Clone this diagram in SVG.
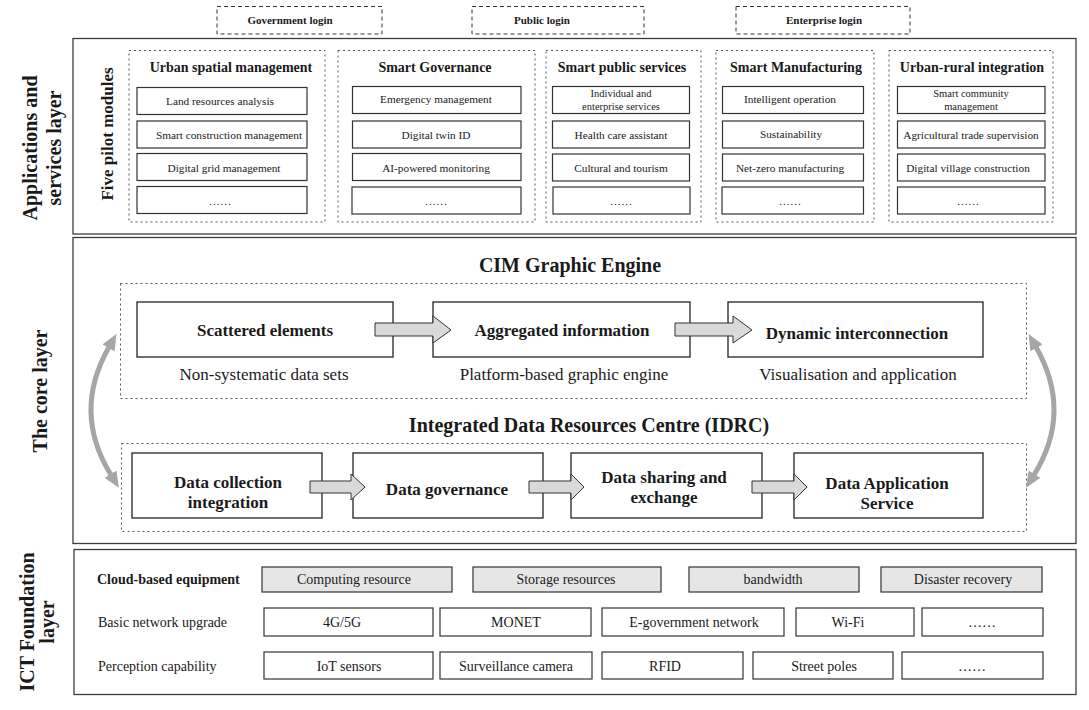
<svg xmlns="http://www.w3.org/2000/svg" width="1089" height="710" viewBox="0 0 1089 710">
<defs>
<style>
text{font-family:"Liberation Serif","Times New Roman",serif;fill:#1a1a1a}
.b{font-weight:bold}
.m{text-anchor:middle}
.layer{fill:none;stroke:#3c3c3c;stroke-width:1.3}
.dot{fill:none;stroke:#555;stroke-width:1;stroke-dasharray:2 3}
.dash{fill:none;stroke:#333;stroke-width:1;stroke-dasharray:4 3}
.item{fill:#fff;stroke:#333;stroke-width:1.2}
.gbox{fill:#e6e6e6;stroke:#333;stroke-width:1.2}
.box{fill:#fff;stroke:#222;stroke-width:1.3}
.blk{fill:#d9d9d9;stroke:#333;stroke-width:1}
.curve{fill:none;stroke:#a6a6a6;stroke-width:5;marker-start:url(#ga);marker-end:url(#ga)}
.it{font-size:11.3px;text-anchor:middle}
.it2{font-size:10.5px;text-anchor:middle}
.mt{font-size:14px;font-weight:bold;text-anchor:middle}
.lg{font-size:11px;font-weight:bold;text-anchor:middle}
.vl{font-size:20px;font-weight:bold;text-anchor:middle}
.bt{font-size:17px;font-weight:bold;text-anchor:middle}
.st{font-size:17px;text-anchor:middle}
.ht{font-size:20px;font-weight:bold;text-anchor:middle}
.rt{font-size:14px;text-anchor:middle}
.rl{font-size:14px}
</style>
<marker id="ga" markerUnits="userSpaceOnUse" markerWidth="18" markerHeight="16" viewBox="0 -8 18 16" refX="1" refY="0" orient="auto-start-reverse">
<path d="M0,-7 L16,0 L0,7 z" fill="#a6a6a6"/>
</marker>
</defs>
<rect width="1089" height="710" fill="#fff"/>

<g id="logins">
<g id="login-gov"><rect class="dash" x="217" y="6.5" width="165" height="27.5"/><text class="lg" x="290" y="23.5">Government login</text></g>
<g id="login-public"><rect class="dash" x="472" y="6.5" width="172" height="27.5"/><text class="lg" x="542" y="23.5">Public login</text></g>
<g id="login-ent"><rect class="dash" x="736" y="6.5" width="174" height="27.5"/><text class="lg" x="824" y="23.5">Enterprise login</text></g>
</g>

<g id="layer-apps">
<rect class="layer" x="73" y="38.5" width="1003" height="195.5"/>
<text class="vl" transform="translate(37,148) rotate(-90)">Applications and</text>
<text class="vl" transform="translate(61,148) rotate(-90)">services layer</text>
<text class="b m" font-size="17" transform="translate(113,134) rotate(-90)">Five pilot modules</text>
</g>

<g id="mod-urban">
<rect class="dot" x="129" y="50.5" width="196" height="171.5"/>
<text class="mt" x="231" y="72">Urban spatial management</text>
<rect class="item" x="137" y="87.5" width="170" height="27"/><text class="it" x="220" y="105">Land resources analysis</text>
<rect class="item" x="137" y="121" width="170" height="27"/><text class="it" x="229" y="138.5">Smart construction management</text>
<rect class="item" x="137" y="153.5" width="170" height="27"/><text class="it" x="224" y="171.5">Digital grid management</text>
<rect class="item" x="137" y="186.5" width="170" height="27"/><text class="it" x="220" y="205">……</text>
</g>

<g id="mod-gov">
<rect class="dot" x="338" y="50.5" width="197" height="171.5"/>
<text class="mt" x="435" y="72">Smart Governance</text>
<rect class="item" x="352.5" y="86.5" width="168.5" height="27"/><text class="it" x="436" y="103">Emergency management</text>
<rect class="item" x="352.5" y="121" width="168.5" height="27"/><text class="it" x="436" y="138.5">Digital twin ID</text>
<rect class="item" x="352.5" y="153.5" width="168.5" height="27"/><text class="it" x="436" y="171.5">AI-powered monitoring</text>
<rect class="item" x="352" y="187" width="169" height="27"/><text class="it" x="436" y="205">……</text>
</g>

<g id="mod-public">
<rect class="dot" x="546" y="50.5" width="155" height="171.5"/>
<text class="mt" x="622" y="72">Smart public services</text>
<rect class="item" x="552.5" y="86.5" width="137" height="27"/><text class="it2" x="621" y="97">Individual and</text><text class="it2" x="621" y="109.5">enterprise services</text>
<rect class="item" x="552.5" y="121" width="137" height="27"/><text class="it" x="621" y="138.5">Health care assistant</text>
<rect class="item" x="552.5" y="154" width="137" height="27"/><text class="it" x="621" y="171.5">Cultural and tourism</text>
<rect class="item" x="553" y="187" width="137" height="27"/><text class="it" x="621" y="205">……</text>
</g>

<g id="mod-manuf">
<rect class="dot" x="716" y="50.5" width="158" height="171.5"/>
<text class="mt" x="796" y="72">Smart Manufacturing</text>
<rect class="item" x="722.5" y="86.5" width="141" height="27"/><text class="it" x="790" y="103">Intelligent operation</text>
<rect class="item" x="722.5" y="121" width="141" height="27"/><text class="it" x="791" y="138">Sustainability</text>
<rect class="item" x="722.5" y="154" width="141" height="27"/><text class="it" x="790" y="171.5">Net-zero manufacturing</text>
<rect class="item" x="722" y="187" width="141.5" height="27"/><text class="it" x="790" y="205">……</text>
</g>

<g id="mod-rural">
<rect class="dot" x="889" y="50.5" width="164" height="171.5"/>
<text class="mt" x="972" y="72">Urban-rural integration</text>
<rect class="item" x="897.5" y="86.5" width="147.5" height="27"/><text class="it2" x="971" y="97">Smart community</text><text class="it2" x="971" y="109.5">management</text>
<rect class="item" x="897.5" y="121" width="147.5" height="27"/><text class="it" x="971" y="138.5">Agricultural trade supervision</text>
<rect class="item" x="897.5" y="154" width="147.5" height="27"/><text class="it" x="968" y="171.5">Digital village construction</text>
<rect class="item" x="897.5" y="187" width="147.5" height="27"/><text class="it" x="968" y="205">……</text>
</g>

<g id="layer-core">
<rect class="layer" x="73" y="237.5" width="1003" height="306"/>
<text class="vl" transform="translate(47,391) rotate(-90)">The core layer</text>
</g>

<g id="cim-engine">
<text class="ht" x="570" y="272">CIM Graphic Engine</text>
<rect class="dot" x="120.5" y="283.5" width="906" height="115"/>
<g id="n-scattered"><rect class="box" x="137" y="302" width="256" height="55"/><text class="bt" x="265" y="336">Scattered elements</text></g>
<text class="st" x="264" y="380">Non-systematic data sets</text>
<g id="n-aggregated"><rect class="box" x="433" y="302" width="257" height="55"/><text class="bt" x="562" y="336">Aggregated information</text></g>
<text class="st" x="564" y="380">Platform-based graphic engine</text>
<g id="n-dynamic"><rect class="box" x="728" y="302" width="255" height="55"/><text class="bt" x="857" y="339">Dynamic interconnection</text></g>
<text class="st" x="858" y="380">Visualisation and application</text>
</g>

<g id="idrc">
<text class="ht" x="589" y="432">Integrated Data Resources Centre (IDRC)</text>
<rect class="dot" x="121.5" y="443.5" width="905" height="88"/>
<g id="n-collection"><rect class="box" x="132" y="453" width="190" height="65"/><text class="bt" x="228" y="488">Data collection</text><text class="bt" x="228" y="508">integration</text></g>
<g id="n-governance"><rect class="box" x="353" y="453" width="190" height="65"/><text class="bt" x="447" y="495">Data governance</text></g>
<g id="n-sharing"><rect class="box" x="571" y="453" width="191" height="65"/><text class="bt" x="664" y="483">Data sharing and</text><text class="bt" x="664" y="503">exchange</text></g>
<g id="n-application"><rect class="box" x="794" y="453" width="189" height="65"/><text class="bt" x="887" y="489">Data Application</text><text class="bt" x="887" y="509">Service</text></g>
</g>

<g id="connectors">
<polygon class="blk" points="375,323 433,323 433,316 451,330 433,343 433,336 375,336"/>
<polygon class="blk" points="675,323 733,323 733,316 752,330 733,343 733,336 675,336"/>
<polygon class="blk" points="310,481 351,481 351,474 365,487 351,500 351,493 310,493"/>
<polygon class="blk" points="529,481 571,481 571,474 584,487 571,500 571,493 529,493"/>
<polygon class="blk" points="752,481 794,481 794,474 807,487 794,500 794,493 752,493"/>
<path class="curve" d="M109,347 Q72,412 111,475"/>
<path class="curve" d="M1036,347 Q1073,412 1034,475"/>
</g>

<g id="layer-ict">
<rect class="layer" x="74" y="549.5" width="1002" height="145"/>
<text class="vl" transform="translate(34,622) rotate(-90)">ICT Foundation</text>
<text class="vl" transform="translate(54,622) rotate(-90)">layer</text>
<text class="rl b" x="97" y="584">Cloud-based equipment</text>
<text class="rl" x="98" y="627">Basic network upgrade</text>
<text class="rl" x="98" y="671">Perception capability</text>
<g id="cloud-row">
<rect class="gbox" x="262" y="567" width="190" height="25"/><text class="rt" x="354" y="584">Computing resource</text>
<rect class="gbox" x="473" y="567" width="188" height="25"/><text class="rt" x="566" y="584">Storage resources</text>
<rect class="gbox" x="689" y="567" width="170" height="25"/><text class="rt" x="773" y="584">bandwidth</text>
<rect class="gbox" x="881" y="567" width="161" height="25"/><text class="rt" x="963" y="584">Disaster recovery</text>
</g>
<g id="network-row">
<rect class="item" x="264" y="608" width="169" height="28"/><text class="rt" x="342" y="627">4G/5G</text>
<rect class="item" x="440" y="608" width="151" height="28"/><text class="rt" x="516" y="627">MONET</text>
<rect class="item" x="602" y="608" width="182" height="28"/><text class="rt" x="694" y="627">E-government network</text>
<rect class="item" x="796" y="608" width="118" height="28"/><text class="rt" x="848" y="627">Wi-Fi</text>
<rect class="item" x="922" y="608" width="121" height="28"/><text class="rt" x="982" y="627">……</text>
</g>
<g id="perception-row">
<rect class="item" x="264" y="652" width="169" height="27"/><text class="rt" x="349" y="671">IoT sensors</text>
<rect class="item" x="440" y="652" width="152" height="27"/><text class="rt" x="516" y="671">Surveillance camera</text>
<rect class="item" x="602" y="652" width="141" height="27"/><text class="rt" x="665" y="671">RFID</text>
<rect class="item" x="753" y="652" width="140" height="27"/><text class="rt" x="824" y="671">Street poles</text>
<rect class="item" x="902" y="652" width="141" height="27"/><text class="rt" x="972" y="671">……</text>
</g>
</g>
</svg>
